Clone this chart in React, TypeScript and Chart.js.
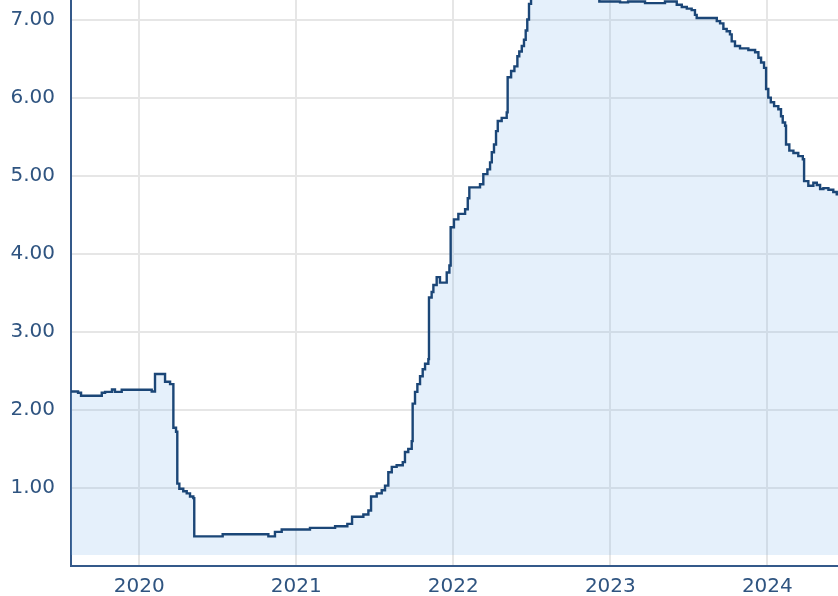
import React, { useEffect, useRef } from "react";
import { Chart, registerables } from "chart.js";

Chart.register(...registerables);

// Decimal-year dates and values
const dates: number[] = [
  2019.565, 2019.61, 2019.629, 2019.761, 2019.782, 2019.826, 2019.845, 2019.888,
  2020.079, 2020.1, 2020.164, 2020.196, 2020.217, 2020.234, 2020.242, 2020.255,
  2020.28, 2020.302, 2020.323, 2020.344, 2020.35, 2020.531, 2020.822, 2020.864,
  2020.907, 2021.087, 2021.247, 2021.325, 2021.355, 2021.427, 2021.459, 2021.476,
  2021.512, 2021.544, 2021.565, 2021.586, 2021.608, 2021.639, 2021.678, 2021.692,
  2021.713, 2021.735, 2021.741, 2021.756, 2021.771, 2021.788, 2021.805, 2021.82,
  2021.841, 2021.845, 2021.862, 2021.873, 2021.894, 2021.915, 2021.958, 2021.975,
  2021.983, 2022.004, 2022.032, 2022.075, 2022.092, 2022.102, 2022.17, 2022.191,
  2022.217, 2022.234, 2022.245, 2022.259, 2022.272, 2022.283, 2022.308, 2022.34,
  2022.346, 2022.368, 2022.389, 2022.408, 2022.42, 2022.436, 2022.45, 2022.461,
  2022.471, 2022.482, 2022.495, 2022.55, 2022.62, 2022.7, 2022.78, 2022.86,
  2022.92, 2022.93, 2023.062, 2023.113, 2023.221, 2023.348, 2023.423, 2023.455,
  2023.487, 2023.518, 2023.539, 2023.55, 2023.678, 2023.699, 2023.72, 2023.741,
  2023.762, 2023.773, 2023.794, 2023.826, 2023.879, 2023.922, 2023.943, 2023.96,
  2023.979, 2023.992, 2024.006, 2024.022, 2024.043, 2024.07, 2024.087, 2024.098,
  2024.113, 2024.119, 2024.14, 2024.166, 2024.197, 2024.226, 2024.234, 2024.261,
  2024.293, 2024.315, 2024.336, 2024.357, 2024.389, 2024.42, 2024.442, 2024.46,
];

const rates: number[] = [
  2.235, 2.22, 2.18, 2.22, 2.23, 2.26, 2.23, 2.257,
  2.235, 2.46, 2.36, 2.33, 1.77, 1.72, 1.055, 0.99,
  0.957, 0.93, 0.89, 0.87, 0.38, 0.407, 0.38, 0.437,
  0.467, 0.488, 0.51, 0.54, 0.63, 0.66, 0.71, 0.89,
  0.93, 0.97, 1.03, 1.2, 1.27, 1.29, 1.33, 1.46,
  1.5, 1.6, 2.08, 2.23, 2.33, 2.43, 2.52, 2.59,
  2.65, 3.44, 3.51, 3.6, 3.7, 3.63, 3.76, 3.85,
  4.34, 4.44, 4.51, 4.57, 4.71, 4.85, 4.89, 5.02,
  5.08, 5.17, 5.3, 5.4, 5.57, 5.7, 5.74, 5.81,
  6.26, 6.34, 6.4, 6.53, 6.59, 6.66, 6.74, 6.86,
  7.0, 7.2, 7.35, 7.55, 7.7, 7.65, 7.5, 7.35,
  7.28, 7.23, 7.22, 7.23, 7.21, 7.23, 7.19, 7.16,
  7.14, 7.12, 7.06, 7.02, 6.98, 6.95, 6.88, 6.85,
  6.81, 6.72, 6.66, 6.63, 6.61, 6.58, 6.51, 6.45,
  6.38, 6.11, 6.0, 5.94, 5.89, 5.85, 5.76, 5.68,
  5.64, 5.4, 5.32, 5.29, 5.25, 5.21, 4.93, 4.87,
  4.91, 4.88, 4.83, 4.84, 4.82, 4.79, 4.76, 4.75,
];

const yearTicks: number[] = [2020, 2021, 2022, 2023, 2024];
const valueTicks: number[] = [1, 2, 3, 4, 5, 6, 7];

const X_MIN = 2019.565;
const X_MAX = 2024.45;
const Y_MIN = 0;
const Y_MAX = 7.25;
const FILL_BASE = 0.14;

const FONT = "DejaVu Sans, Verdana, sans-serif";
const TEXT = "#2f5480";

export default function App() {
  const ref = useRef<HTMLCanvasElement | null>(null);

  useEffect(() => {
    if (!ref.current) return;
    const chart = new Chart(ref.current, {
      type: "line",
      data: {
        datasets: [
          {
            data: dates.map((d, i) => ({ x: d, y: rates[i] })),
            stepped: true,
            borderColor: "#1b4677",
            borderWidth: 2.4,
            pointRadius: 0,
            backgroundColor: "rgba(124,181,236,0.2)",
            fill: { value: FILL_BASE },
          },
        ],
      },
      options: {
        animation: false,
        responsive: false,
        maintainAspectRatio: false,
        layout: { padding: 0 },
        plugins: {
          legend: { display: false },
          tooltip: { enabled: false },
        },
        scales: {
          x: {
            type: "linear",
            min: X_MIN,
            max: X_MAX,
            afterBuildTicks: (s: any) => {
              s.ticks = yearTicks.map((v) => ({ value: v }));
            },
            afterFit: (s: any) => {
              s.height = 30;
              s.paddingLeft = 0;
              s.paddingRight = 0;
            },
            ticks: {
              autoSkip: false,
              maxRotation: 0,
              padding: 9,
              color: TEXT,
              font: { family: FONT, size: 20 },
              callback: (v: any) => String(v),
            },
            grid: { color: "#e6e6e6", lineWidth: 2, drawTicks: false },
            border: { color: "#34598a", width: 2 },
          },
          y: {
            type: "linear",
            min: Y_MIN,
            max: Y_MAX,
            afterBuildTicks: (s: any) => {
              s.ticks = valueTicks.map((v) => ({ value: v }));
            },
            afterFit: (s: any) => {
              s.width = 71;
              s.paddingTop = 0;
              s.paddingBottom = 0;
            },
            ticks: {
              autoSkip: false,
              padding: 16,
              color: TEXT,
              font: { family: FONT, size: 20 },
              callback: (v: any) => Number(v).toFixed(2),
            },
            grid: { color: "#e6e6e6", lineWidth: 2, drawTicks: false },
            border: { color: "#34598a", width: 2 },
          },
        },
      },
    });
    return () => chart.destroy();
  }, []);

  return (
    <div style={{ position: "fixed", left: 0, top: 0, width: 838, height: 596, background: "#fff" }}>
      <canvas ref={ref} width={838} height={596} style={{ width: 838, height: 596, display: "block" }} />
    </div>
  );
}
